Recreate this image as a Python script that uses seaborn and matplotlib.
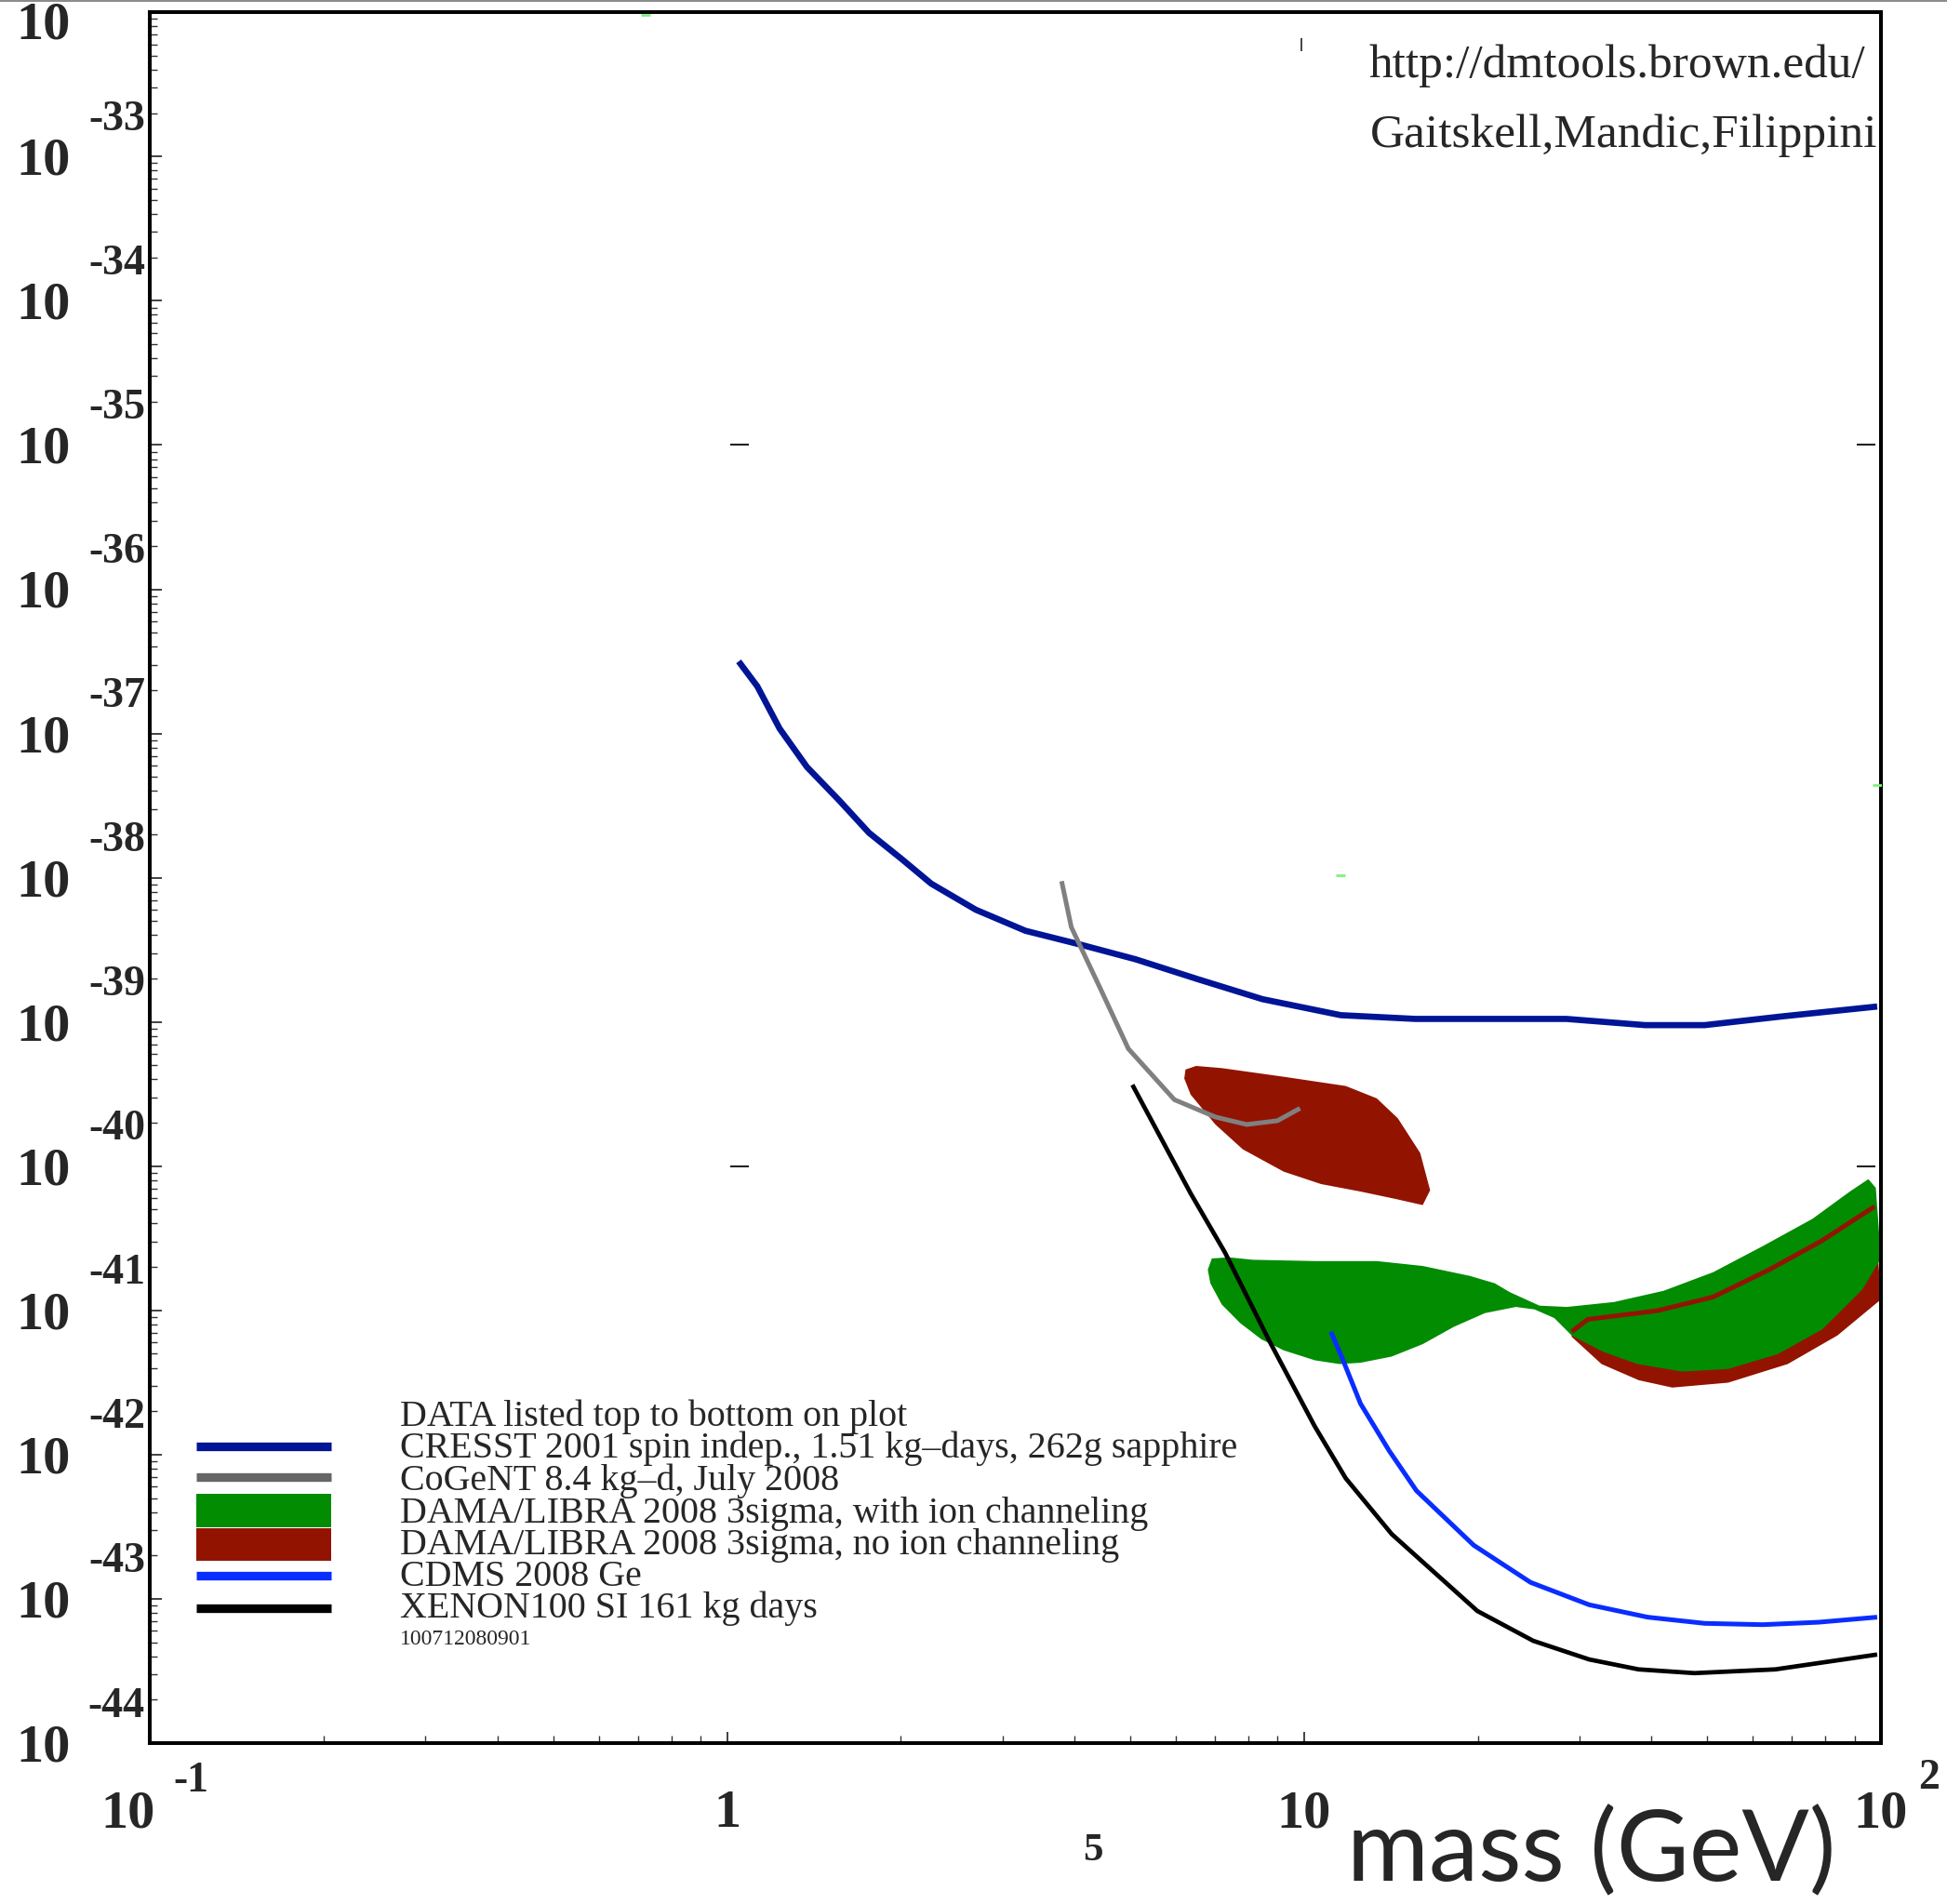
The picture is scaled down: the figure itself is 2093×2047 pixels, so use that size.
import matplotlib
matplotlib.use("Agg")
import numpy as np
import pandas as pd
import matplotlib.pyplot as plt
import seaborn as sns
from matplotlib.lines import Line2D
from matplotlib.patches import Rectangle
from matplotlib.ticker import LogLocator, FixedLocator, NullFormatter

# ---------------- data: WIMP mass (GeV) and log10 of cross-section (cm^2) ----------------
cresst_mass = [1.047, 1.128, 1.233, 1.375, 1.565, 1.762, 2.005, 2.258, 2.698, 3.29, 4.09,
               5.11, 6.55, 8.47, 11.58, 15.6, 21.0, 28.5, 39.0, 49.5, 67.2, 98.5]
cresst_logsig = [-36.50, -36.673, -36.966, -37.232, -37.465, -37.689, -37.869, -38.041,
                 -38.222, -38.368, -38.463, -38.566, -38.704, -38.842, -38.953, -38.979,
                 -38.979, -38.979, -39.022, -39.022, -38.962, -38.893]

cogent_mass = [3.80, 3.95, 4.43, 4.96, 5.96, 7.02, 7.95, 8.99, 9.84]
cogent_logsig = [-38.024, -38.343, -38.764, -39.186, -39.539, -39.659, -39.711, -39.685, -39.599]

xenon_mass = [5.04, 6.36, 7.29, 8.72, 10.43, 11.81, 14.19, 16.38, 19.97, 24.96, 31.2,
              38.0, 47.5, 65.6, 98.5]
xenon_logsig = [-39.436, -40.189, -40.597, -41.217, -41.802, -42.164, -42.551, -42.775,
                -43.084, -43.291, -43.420, -43.489, -43.515, -43.489, -43.386]

cdms_mass = [11.13, 11.64, 12.53, 14.05, 15.66, 19.68, 24.7, 31.2, 39.4, 49.5, 62.4, 78.0, 98.5]
cdms_logsig = [-41.148, -41.329, -41.647, -41.974, -42.250, -42.628, -42.886, -43.041,
               -43.127, -43.170, -43.179, -43.162, -43.127]

# DAMA/LIBRA, no ion channeling: upper island
dama_noch_island_mass = [6.23, 6.50, 7.20, 9.22, 11.81, 13.37, 14.54, 15.90, 16.54, 16.06,
                         14.40, 12.53, 10.70, 9.22, 7.83, 7.02, 6.36, 6.20]
dama_noch_island_logsig = [-39.330, -39.305, -39.320, -39.380, -39.444, -39.530, -39.668,
                           -39.909, -40.167, -40.270, -40.227, -40.176, -40.124, -40.038,
                           -39.883, -39.711, -39.504, -39.392]

# DAMA/LIBRA, no ion channeling: high-mass region (upper edge shows through as a line)
dama_noch_high_mass = [29.10, 31.03, 40.97, 51.19, 63.99, 78.77, 97.5, 100.0, 84.04, 68.92,
                       54.35, 43.48, 38.03, 32.78, 29.10]
dama_noch_high_logsig = [-41.148, -41.062, -41.002, -40.907, -40.718, -40.520, -40.279,
                         -40.924, -41.174, -41.372, -41.501, -41.535, -41.484, -41.372, -41.183]
dama_noch_edge_mass = [29.10, 31.03, 40.97, 51.19, 63.99, 78.77, 97.5]
dama_noch_edge_logsig = [-41.148, -41.062, -41.002, -40.907, -40.718, -40.520, -40.279]

# DAMA/LIBRA, with ion channeling
dama_ch_mass = [6.92, 7.41, 8.15, 10.44, 13.37, 16.06, 19.39, 21.41, 22.72, 24.23, 25.59,
                28.53, 34.45, 42.01, 51.19, 62.41, 76.08, 88.31, 95.1, 97.97, 100.0, 92.8,
                79.15, 66.25, 54.35, 45.23, 37.84, 32.94, 29.10, 27.15, 25.08, 23.29, 20.58,
                18.18, 16.06, 14.19, 12.53, 11.52, 10.44, 9.22, 8.43, 7.75, 7.20, 6.88, 6.81]
dama_ch_logsig = [-40.640, -40.632, -40.649, -40.658, -40.658, -40.692, -40.761, -40.812,
                  -40.873, -40.924, -40.967, -40.976, -40.942, -40.864, -40.735, -40.554,
                  -40.365, -40.176, -40.090, -40.150, -40.640, -40.856, -41.131, -41.303,
                  -41.406, -41.424, -41.372, -41.286, -41.174, -41.053, -40.993, -40.976,
                  -41.019, -41.114, -41.234, -41.320, -41.363, -41.372, -41.346, -41.277,
                  -41.200, -41.088, -40.959, -40.812, -40.718]

# small reference marks and specks seen on the plot
ref_dash_mass = [1.05, 1.05, 94.4, 94.4]
ref_dash_logsig = [-35.0, -40.0, -35.0, -40.0]
ref_vtick_mass = [9.88]
ref_vtick_logsig = [-32.224]
speck_mass = [0.722, 11.58, 98.5]
speck_logsig = [-32.017, -37.98, -37.36]

y_exponents = list(range(-44, -31))
x_exponents = [-1, 0, 1, 2]

legend_labels = ["CRESST 2001 spin indep., 1.51 kg\u2013days, 262g sapphire",
                 "CoGeNT 8.4 kg\u2013d, July 2008",
                 "DAMA/LIBRA 2008 3sigma, with ion channeling",
                 "DAMA/LIBRA 2008 3sigma, no ion channeling",
                 "CDMS 2008 Ge",
                 "XENON100 SI 161 kg days"]

NAVY = "#001496"
GRAY = "#808080"
GRAY_KEY = "#666666"
GREEN = "#028c02"
RED = "#921400"
BLUE = "#0a2dff"
BLACK = "#000000"

# ---------------- figure ----------------
sns.set_theme(style="white")
plt.rcParams["font.family"] = ["Liberation Serif", "DejaVu Serif"]
SERIF = ["Liberation Serif", "DejaVu Serif"]

fig = plt.figure(figsize=(20.93, 20.47), dpi=100, facecolor="white")
ax = fig.add_axes([0.07716, 0.08452, 0.88892, 0.90898])
ax.set_facecolor("white")
ax.set_xscale("log")
ax.set_yscale("log")


def sig(v):
    return 10.0 ** np.asarray(v, dtype=float)


# filled regions
ax.fill(dama_noch_island_mass, sig(dama_noch_island_logsig), color=RED, lw=0, zorder=1)
ax.fill(dama_noch_high_mass, sig(dama_noch_high_logsig), color=RED, lw=0, zorder=1)
ax.fill(dama_ch_mass, sig(dama_ch_logsig), color=GREEN, lw=0, zorder=2)


def sline(mass, logsig, color, lw, z):
    df = pd.DataFrame({"mass": mass, "sigma": sig(logsig)})
    sns.lineplot(data=df, x="mass", y="sigma", sort=False, estimator=None, color=color,
                 linewidth=lw, ax=ax, zorder=z, solid_joinstyle="round",
                 solid_capstyle="butt")


sline(dama_noch_edge_mass, dama_noch_edge_logsig, RED, 3.6, 2.5)
sline(cresst_mass, cresst_logsig, NAVY, 4.8, 4)
sline(cogent_mass, cogent_logsig, GRAY, 3.6, 4)
sline(cdms_mass, cdms_logsig, BLUE, 3.6, 4)
sline(xenon_mass, xenon_logsig, BLACK, 3.4, 4)

ax.plot(ref_dash_mass, sig(ref_dash_logsig), ls="none", marker="_", ms=14, mew=1.5,
        color="#222222", zorder=5)
ax.plot(ref_vtick_mass, sig(ref_vtick_logsig), ls="none", marker="|", ms=10, mew=1.2,
        color="#222222", zorder=5)
ax.plot(speck_mass, sig(speck_logsig), ls="none", marker="_", ms=7, mew=2,
        color="#7ef07e", zorder=5)

ax.set_xlim(0.1, 100)
ax.set_ylim(1e-44, 1e-32)
ax.set_xlabel("")
ax.set_ylabel("")

# ticks
ax.xaxis.set_major_locator(FixedLocator([10.0 ** e for e in x_exponents]))
ax.yaxis.set_major_locator(FixedLocator([10.0 ** e for e in y_exponents]))
ax.xaxis.set_minor_locator(LogLocator(base=10, subs=np.arange(2, 10), numticks=400))
ax.yaxis.set_minor_locator(LogLocator(base=10, subs=np.arange(2, 10), numticks=400))
ax.xaxis.set_minor_formatter(NullFormatter())
ax.yaxis.set_minor_formatter(NullFormatter())
ax.tick_params(which="both", direction="in", bottom=True, left=True, top=False,
               right=False, labelbottom=False, labelleft=False, colors="#333333")
ax.tick_params(which="major", length=9, width=1.3)
ax.tick_params(which="minor", length=6, width=1.0)
for s in ax.spines.values():
    s.set_linewidth(2.9)
    s.set_color("black")

# y tick labels: "10" with the exponent above-right (top exponent lies off the page)
ytr = ax.get_yaxis_transform()
for e in y_exponents:
    dy = -14 if e < -32 else -20.5   # top label nudged down to stay on the page
    ax.annotate("10", xy=(0, 10.0 ** e), xycoords=ytr, xytext=(-61.5, dy),
                textcoords="offset points", ha="right", va="baseline", fontsize=42,
                fontweight="bold", family=SERIF, annotation_clip=False)
    if e < -32:
        ax.annotate(str(e), xy=(0, 10.0 ** e), xycoords=ytr, xytext=(-4, 20.5),
                    textcoords="offset points", ha="right", va="baseline", fontsize=33,
                    fontweight="bold", family=SERIF, annotation_clip=False)

# x tick labels
xtr = ax.get_xaxis_transform()
x_main = {-1: ("10", "right", 3.8), 0: ("1", "center", 0), 1: ("10", "center", 0),
          2: ("10", "center", 0)}
x_sup = {-1: ("-1", 18, -37.5), 2: ("2", 29, -35.5)}
for e in x_exponents:
    txt, ha, dx = x_main[e]
    ax.annotate(txt, xy=(10.0 ** e, 0), xycoords=xtr, xytext=(dx, -65),
                textcoords="offset points", ha=ha, va="baseline", fontsize=42,
                fontweight="bold", family=SERIF, annotation_clip=False)
    if e in x_sup:
        st, sdx, sdy = x_sup[e]
        ax.annotate(st, xy=(10.0 ** e, 0), xycoords=xtr, xytext=(sdx, sdy),
                    textcoords="offset points", ha="left", va="baseline", fontsize=33,
                    fontweight="bold", family=SERIF, annotation_clip=False)

ax.annotate("5", xy=(0.5445, 0), xycoords="axes fraction", xytext=(0, -91),
            textcoords="offset points", ha="center", va="baseline", fontsize=31,
            fontweight="bold", family=SERIF, annotation_clip=False)

fig.text(0.6918, 0.0122, "mass (GeV)", family=["Lato", "DejaVu Sans"], fontsize=77,
         ha="left", va="baseline")

# top-right credits
ax.text(0.9909, 0.9625, "http://dmtools.brown.edu/", transform=ax.transAxes,
        ha="right", va="baseline", fontsize=37, family=SERIF)
ax.text(0.9978, 0.9225, "Gaitskell,Mandic,Filippini", transform=ax.transAxes,
        ha="right", va="baseline", fontsize=37, family=SERIF)

# ---------------- legend (drawn in axes coordinates) ----------------
kx0, kx1 = 0.02654, 0.10473
tx = 0.14419
base_y = [0.18307, 0.16478, 0.14634, 0.12755, 0.10933, 0.09082, 0.07245]
LFS = 28.8
ax.text(tx, base_y[0], "DATA listed top to bottom on plot", transform=ax.transAxes,
        ha="left", va="baseline", fontsize=LFS, family=SERIF, zorder=6)
for lab, yb in zip(legend_labels, base_y[1:]):
    ax.text(tx, yb, lab, transform=ax.transAxes, ha="left", va="baseline", fontsize=LFS,
            family=SERIF, zorder=6)
ax.text(tx, 0.05681, "100712080901", transform=ax.transAxes, ha="left", va="baseline",
        fontsize=17, family=SERIF, zorder=6)

for yk, col in [(0.17145, NAVY), (0.15351, GRAY_KEY), (0.09684, BLUE), (0.07819, BLACK)]:
    ax.add_line(Line2D([kx0, kx1], [yk, yk], transform=ax.transAxes, color=col, lw=6.7,
                       solid_capstyle="butt", zorder=6))
ax.add_patch(Rectangle((kx0, 0.12482), kx1 - kx0, 0.01937, transform=ax.transAxes,
                       facecolor=GREEN, edgecolor="none", zorder=6))
ax.add_patch(Rectangle((kx0, 0.10545), kx1 - kx0, 0.01865, transform=ax.transAxes,
                       facecolor=RED, edgecolor="none", zorder=6))

# thin grey border line at the very top of the image
fig.add_artist(Line2D([0, 1], [0.9993, 0.9993], transform=fig.transFigure,
                      color="#8c8c8c", lw=1.5))

fig.savefig("out.png", dpi=100, facecolor="white")
